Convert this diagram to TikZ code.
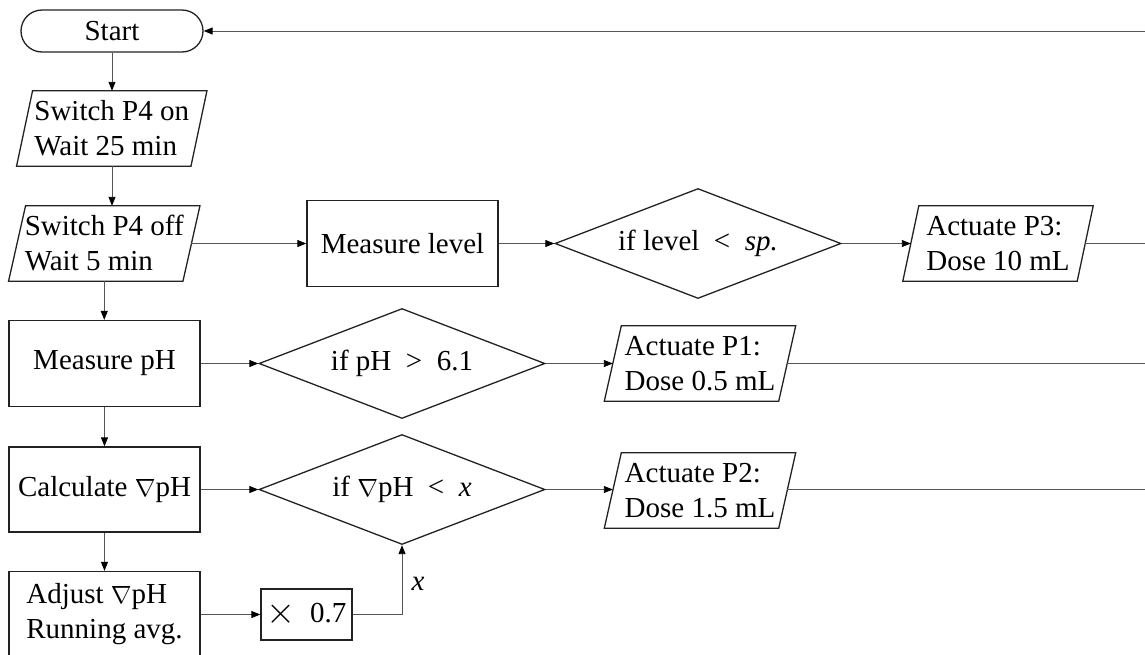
\documentclass[tikz,border=0pt]{standalone}
\usepackage{fontspec}
\setmainfont{Liberation Serif}
\usetikzlibrary{shapes.geometric,arrows.meta}
\definecolor{shapecol}{HTML}{222222}
\definecolor{linecol}{HTML}{555555}
\newcommand\drawpara[2]{\draw[shapecol,line width=1.3pt,line join=miter] ([xshift=#2]#1.north west) -- ([xshift=#2]#1.north east) -- ([xshift=-#2]#1.south east) -- ([xshift=-#2]#1.south west) -- cycle;}
\begin{document}
\begin{tikzpicture}[x=1pt,y=-1pt,
  every node/.style={font=\fontsize{29}{35}\selectfont, inner sep=0pt, text=black},
  boxnode/.style={draw=shapecol, line width=1.3pt, minimum width=191pt, minimum height=86pt, align=center},
  termnode/.style={draw=shapecol, line width=1.3pt, rounded corners=21pt, minimum width=182pt, minimum height=42pt},
  paraslot/.style={minimum width=174pt, minimum height=75pt, align=left},
  decnode/.style={diamond, draw=shapecol, line width=1.3pt, aspect=2.6, minimum width=286pt, minimum height=110pt},
  connline/.style={draw=linecol, line width=0.9pt},
  arr/.style={connline, -{Triangle[length=9pt,width=7pt,color=black]}},
]
\useasboundingbox (0,0) rectangle (1145,654);
\clip (0,0) rectangle (1145,654);

% nodes
\node[termnode] (start) at (112,31) {Start};
\node[paraslot] (on) at (111.75,128.5) {Switch P4 on\\Wait 25 min};
\node[paraslot] (off) at (104.25,243.5) {Switch P4 off\\Wait 5 min};
\node[boxnode] (ml) at (402.5,243.5) {Measure level};
\node[decnode] (d1) at (698,243.5) {if level\enspace<\enspace\textit{sp.}};
\node[paraslot] (p3) at (998,243.5) {Actuate P3:\\Dose 10 mL};

\node[boxnode] (mph) at (104.5,363.5) {Measure pH};
\node[decnode] (d2) at (402,363.5) {if pH\enspace>\enspace6.1};
\node[paraslot] (p1) at (700,363.5) {Actuate P1:\\Dose 0.5 mL};

\node[boxnode, minimum height=85pt] (calc) at (104.5,489.5) {Calculate $\nabla$pH};
\node[decnode] (d3) at (402,489.5) {if $\nabla$pH\enspace<\enspace\textit{x}};
\node[paraslot] (p2) at (700,490.5) {Actuate P2:\\Dose 1.5 mL};

\node[boxnode, align=left] (adj) at (104.5,614.5) {Adjust $\nabla$pH\\Running avg.};
\node[boxnode, minimum width=91pt, minimum height=51pt] (mul) at (306.5,614.5) {\raisebox{-1pt}{\scalebox{1.5}{$\times$}}\enspace0.7};
\node (xl) at (418,584) {\textit{x}};

\drawpara{on}{8}
\drawpara{off}{8.5}
\drawpara{p3}{8}
\drawpara{p1}{8.5}
\drawpara{p2}{8.5}

% off-canvas return coordinates
\coordinate (r0) at (1154,31);
\coordinate (r1) at (1154,243.5);
\coordinate (r2) at (1154,363.5);
\coordinate (r3) at (1154,489.5);

% connectors
\draw[arr] (start.south) -- (start.south |- on.north);
\draw[arr] (on.south -| start.south) -- (start.south |- off.north);
\draw[arr] (off.south) -- (off.south |- mph.north);
\draw[arr] (mph.south) -- (calc.north);
\draw[arr] (calc.south) -- (adj.north);

\draw[arr] (off.east) -- (ml.west);
\draw[arr] (ml.east) -- (d1.west);
\draw[arr] (d1.east) -- (p3.west);
\draw[arr] (p3.east) -- (r1);

\draw[arr] (mph.east) -- (d2.west);
\draw[arr] (d2.east) -- (p1.west);
\draw[arr] (p1.east) -- (r2);

\draw[arr] (calc.east) -- (d3.west);
\draw[arr] (d3.east) -- (d3.east -| p2.west);
\draw[connline] (d3.east -| p2.east) -- (r3);

\draw[arr] (adj.east) -- (mul.west);
\draw[arr] (mul.east) -| (d3.south);

\draw[arr] (r0) -- (start.east);
\end{tikzpicture}
\end{document}
